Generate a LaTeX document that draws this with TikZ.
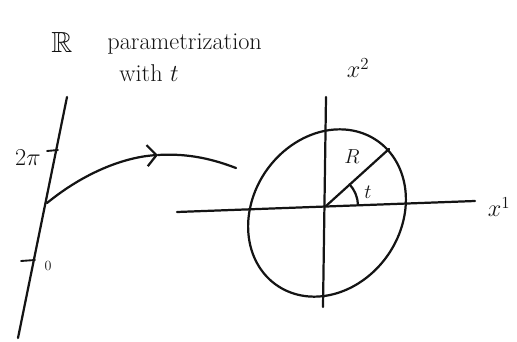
\documentclass[tikz,border=0pt]{standalone}
\usepackage{amsmath}
\usepackage{amssymb}
\usetikzlibrary{arrows.meta,positioning,calc}
\definecolor{ink}{RGB}{20,20,20}
\tikzset{
  pen/.style={draw=ink,line width=1.9pt,line cap=round,line join=round},
  penarr/.style={pen,-{Straight Barb[length=8pt,width=18pt]}},
  lbl/.style={font=\huge,text=ink,inner sep=1pt},
  tickmark/.style={pen,line width=1.6pt}
}
\begin{document}
\begin{tikzpicture}[x=0.03cm,y=-0.03cm]
  \useasboundingbox (0,0) rectangle (517,341);
  % the real line with the interval
  \coordinate (lineTop) at (67,97);
  \coordinate (lineBot) at (18,338);
  \draw[pen] (lineTop) -- (lineBot);
  \draw[tickmark] (47,151) -- (58,150);
  \draw[tickmark] (21,261) -- (35,260);
  \node[lbl,font=\huge] (twopi) at (28,158) {$2\pi$};
  \node[lbl,font=\large] (zero) at (48,266) {$0$};
  \node[lbl,font=\Huge] (reals) at (62,42) {$\mathbb{R}$};
  \node[lbl,anchor=west] (param) at (106,44) {parametrization};
  \node[lbl,anchor=west] (with) at (118,73) {with $t$};
  % map to the curve
  \coordinate (mapStart) at (47,203);
  \coordinate (mapMid) at (158,155);
  \coordinate (mapEnd) at (236,168);
  \draw[penarr] (mapStart) .. controls (85,172) and (125,157) .. (mapMid);
  \draw[pen] (mapMid) .. controls (190,153) and (215,160) .. (mapEnd);
  % axes
  \coordinate (origin) at (326,206);
  \draw[pen] (177,212) -- (475,201);
  \draw[pen] (326,97) -- (323,307);
  \node[lbl] (xone) at (499,207) {$x^1$};
  \node[lbl] (xtwo) at (358,68) {$x^2$};
  % the closed curve, tilted ellipse
  \draw[pen] plot[domain=0:360,samples=90,smooth]
    ({327+88*cos(\x)*0.574+74*sin(\x)*0.819},{213-88*cos(\x)*0.819+74*sin(\x)*0.574}) -- cycle;
  % radius and angle
  \coordinate (rimPt) at (389,149);
  \draw[pen] (origin) -- (rimPt);
  \draw[pen] ([shift={(origin)}] -42.6:32) arc[start angle=-42.6,end angle=-2,radius=32];
  \node[lbl,font=\LARGE] (radR) at (352,157) {$R$};
  \node[lbl,font=\LARGE] (angT) at (368,192) {$t$};
\end{tikzpicture}
\end{document}
